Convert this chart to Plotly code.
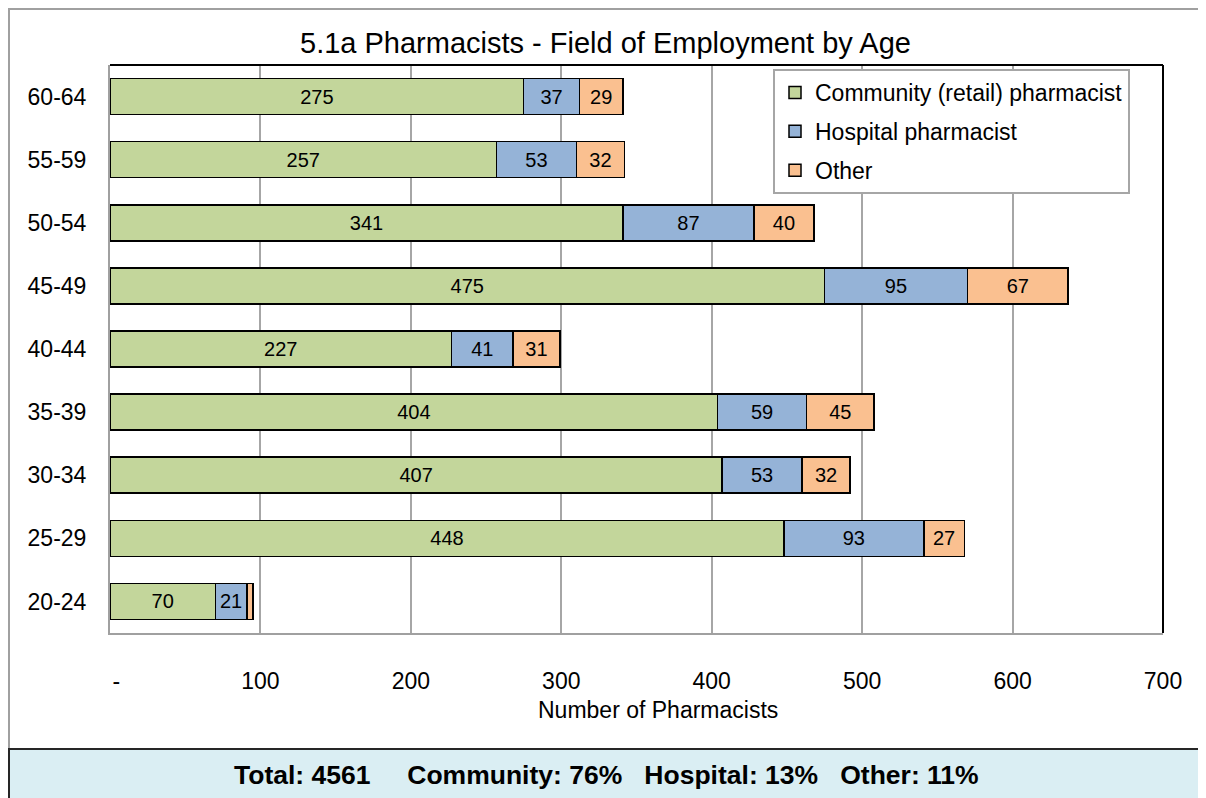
import plotly.graph_objects as go

# ---- data ----
age_groups = ["20-24", "25-29", "30-34", "35-39", "40-44", "45-49", "50-54", "55-59", "60-64"]
community = [70, 448, 407, 404, 227, 475, 341, 257, 275]
hospital = [21, 93, 53, 59, 41, 95, 87, 53, 37]
other = [4, 27, 32, 45, 31, 67, 40, 32, 29]
series_names = ["Community (retail) pharmacist", "Hospital pharmacist", "Other"]
x_tick_vals = [0, 100, 200, 300, 400, 500, 600, 700]
x_tick_text = ["\u00a0\u00a0-", "100", "200", "300", "400", "500", "600", "700"]
title_text = "5.1a Pharmacists - Field of Employment by Age"
x_title = "Number of Pharmacists"
summary_text = "Total: 4561&nbsp;&nbsp;&nbsp;&nbsp;&nbsp;Community: 76%&nbsp;&nbsp;&nbsp;Hospital: 13%&nbsp;&nbsp;&nbsp;Other: 11%"

colors = ["#C3D69B", "#95B3D7", "#FAC090"]
FONT = "Liberation Sans, Arial, sans-serif"

# ---- geometry (page pixels; the page body adds an 8px offset) ----
OFF = 8
W_FIG, H_FIG = 1206 - OFF, 798 - OFF
L, R, T, B = 110, 1163, 65, 633          # plot area, page pixels
def px(x):
    return (x - L) / (R - L)
def py(y):
    return (B - y) / (B - T)

def labels(vals, hide_small=5):
    return [str(v) if v >= hide_small else "" for v in vals]

fig = go.Figure()
for name, vals, col in zip(series_names, [community, hospital, other], colors):
    fig.add_trace(go.Bar(
        y=age_groups, x=vals, name=name, orientation="h",
        marker=dict(color=col, line=dict(color="black", width=1.5)),
        text=labels(vals), textposition="inside", insidetextanchor="middle",
        textangle=0, textfont=dict(size=20, color="black", family=FONT),
        legendgroup=name, hoverinfo="x+y+name",
    ))

fig.update_layout(
    width=W_FIG, height=H_FIG,
    margin=dict(l=L - OFF, r=W_FIG - (R - OFF), t=T - OFF, b=H_FIG - (B - OFF), pad=0),
    barmode="stack", bargap=0.43,
    plot_bgcolor="white", paper_bgcolor="white",
    font=dict(family=FONT, size=23, color="black"),
    showlegend=True,
    legend=dict(
        x=px(773), y=py(69), xanchor="left", yanchor="top",
        bgcolor="white", bordercolor="#A6A6A6", borderwidth=2,
        font=dict(size=23, family=FONT, color="black"),
        traceorder="grouped", tracegroupgap=6,
        itemwidth=30,
    ),
    xaxis=dict(
        range=[0, 700], tickvals=x_tick_vals, ticktext=x_tick_text,
        showgrid=True, gridcolor="#A6A6A6", gridwidth=1.5,
        showline=True, linecolor="#A0A0A0", linewidth=2,
        zeroline=False, ticks="", ticklabelstandoff=26,
        tickfont=dict(size=23),
        fixedrange=True,
    ),
    yaxis=dict(
        categoryorder="array", categoryarray=age_groups,
        showline=True, linecolor="#A0A0A0", linewidth=2,
        showgrid=False, ticks="", ticklabelstandoff=17,
        tickfont=dict(size=23),
        fixedrange=True,
    ),
)

# plot-area top/right borders (black) and outer chart border (grey)
fig.add_shape(type="line", xref="paper", yref="paper", x0=0, x1=1, y0=1, y1=1,
              line=dict(color="black", width=2))
fig.add_shape(type="line", xref="paper", yref="paper", x0=1, x1=1, y0=0, y1=1,
              line=dict(color="black", width=2))
fig.add_shape(type="path", xref="paper", yref="paper",
              path=f"M {px(9)},{py(760)} L {px(9)},{py(9)} L {px(1215)},{py(9)}",
              line=dict(color="#A0A0A0", width=2))

# summary box
fig.add_shape(type="rect", xref="paper", yref="paper",
              x0=px(9), x1=px(1200), y0=py(805), y1=py(749),
              fillcolor="#DAEEF3", line=dict(color="#262626", width=2))

fig.add_annotation(text=title_text, xref="paper", yref="paper",
                   x=px(605), y=py(43), xanchor="center", yanchor="middle",
                   showarrow=False, font=dict(size=29, family=FONT, color="black"))
fig.add_annotation(text=x_title, xref="paper", yref="paper",
                   x=px(658), y=py(710), xanchor="center", yanchor="middle",
                   showarrow=False, font=dict(size=23, family=FONT, color="black"))
fig.add_annotation(text="<b>" + summary_text + "</b>", xref="paper", yref="paper",
                   x=px(606), y=py(775), xanchor="center", yanchor="middle",
                   showarrow=False, font=dict(size=26.5, family=FONT, color="black"))

fig.write_html("out.html")
